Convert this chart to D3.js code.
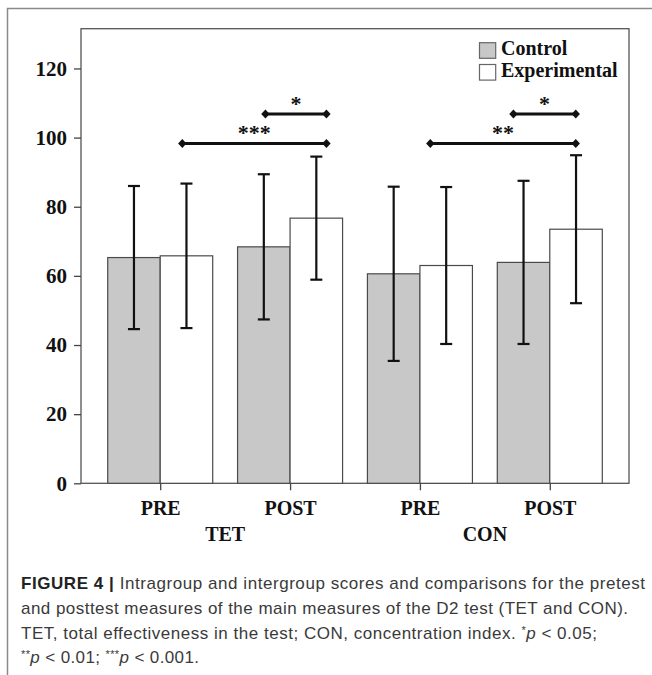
<!DOCTYPE html>
<html>
<head>
<meta charset="utf-8">
<script src="https://cdn.jsdelivr.net/npm/d3@7"></script>
<style>
  body { margin: 0; background: #fff; }
  svg { display: block; }
</style>
</head>
<body>
<div class="chart"></div>
<script>
// values
var categories = ["TET PRE", "TET POST", "CON PRE", "CON POST"];
var phaseLabels = ["PRE", "POST", "PRE", "POST"];
var groups = ["TET", "CON"];
var controlMean = [65.3, 68.4, 60.6, 63.9];
var controlSd = [20.7, 21.0, 25.2, 23.6];
var expMean = [65.8, 76.7, 63.0, 73.5];
var expSd = [20.9, 17.8, 22.7, 21.4];
var yTicks = [0, 20, 40, 60, 80, 100, 120];

// significance brackets (positions in category index units)
var bracketFrom = [0.17, 0.81, 2.08, 2.72];
var bracketTo = [1.28, 1.28, 3.2, 3.2];
var bracketLevel = [98.3, 106.8, 98.3, 106.8];
var bracketLabel = ["***", "*", "**", "*"];

var legendNames = ["Control", "Experimental"];
var legendFill = ["#c8c8c8", "#ffffff"];

var values = {
  width: 652,
  height: 675,
  left: 81,
  right: 629,
  top: 28.7,
  bottom: 483.3,
  barWidth: 52.5
};

var serif = "'Liberation Serif', 'Times New Roman', serif";

var svg = d3.select('.chart')
  .append('svg')
  .attr('width', values.width)
  .attr('height', values.height);

// outer figure frame (left + top only visible)
svg.append('path')
  .attr('d', 'M7.5,675 V8.5 H652')
  .attr('fill', 'none')
  .attr('stroke', '#8a8a8a')
  .attr('stroke-width', 1.5);

var x = d3.scalePoint()
  .domain(categories)
  .range([values.left, values.right])
  .padding(0.61);

var xi = d3.scaleLinear()
  .domain([0, 3])
  .range([x(categories[0]), x(categories[3])]);

var y = d3.scaleLinear()
  .domain([0, 131.5])
  .range([values.bottom, values.top]);

var bars = [];
categories.forEach(function (c, i) {
  bars.push({ c: c, side: -1, mean: controlMean[i], sd: controlSd[i], fill: legendFill[0] });
  bars.push({ c: c, side: 0, mean: expMean[i], sd: expSd[i], fill: legendFill[1] });
});

// plot frame
svg.append('rect')
  .attr('x', values.left)
  .attr('y', values.top)
  .attr('width', values.right - values.left)
  .attr('height', values.bottom - values.top)
  .attr('fill', 'none')
  .attr('stroke', '#555')
  .attr('stroke-width', 1.3);

// bars
svg.selectAll('rect.bar')
  .data(bars)
  .enter()
  .append('rect')
  .attr('class', 'bar')
  .attr('x', d => x(d.c) + d.side * values.barWidth)
  .attr('y', d => y(d.mean))
  .attr('width', values.barWidth)
  .attr('height', d => y(0) - y(d.mean))
  .attr('fill', d => d.fill)
  .attr('stroke', '#4a4a4a')
  .attr('stroke-width', 1.2);

// error bars
var err = svg.selectAll('g.err')
  .data(bars)
  .enter()
  .append('g')
  .attr('class', 'err')
  .attr('stroke', '#111')
  .attr('stroke-width', 2.2);

err.append('line')
  .attr('x1', d => x(d.c) + d.side * values.barWidth + values.barWidth / 2)
  .attr('x2', d => x(d.c) + d.side * values.barWidth + values.barWidth / 2)
  .attr('y1', d => y(d.mean - d.sd))
  .attr('y2', d => y(d.mean + d.sd));

[-1, 1].forEach(function (k) {
  err.append('line')
    .attr('x1', d => x(d.c) + d.side * values.barWidth + values.barWidth / 2 - 6)
    .attr('x2', d => x(d.c) + d.side * values.barWidth + values.barWidth / 2 + 6)
    .attr('y1', d => y(d.mean + k * d.sd))
    .attr('y2', d => y(d.mean + k * d.sd));
});

// y axis
var yAxis = d3.axisLeft(y).tickValues(yTicks).tickSize(7).tickPadding(7);
var gy = svg.append('g')
  .attr('transform', 'translate(' + values.left + ',0)')
  .call(yAxis);
gy.select('.domain').remove();
gy.selectAll('line').attr('stroke', '#444').attr('stroke-width', 1.3);
gy.selectAll('text')
  .attr('fill', '#111')
  .style('font-family', serif)
  .style('font-weight', 'bold')
  .style('font-size', '21px');

// x axis
var xAxis = d3.axisBottom(x)
  .tickSize(7)
  .tickPadding(11)
  .tickFormat((d, i) => phaseLabels[i]);
var gx = svg.append('g')
  .attr('transform', 'translate(0,' + values.bottom + ')')
  .call(xAxis);
gx.select('.domain').remove();
gx.selectAll('line').attr('stroke', '#444').attr('stroke-width', 1.3);
gx.selectAll('text')
  .attr('fill', '#111')
  .style('font-family', serif)
  .style('font-weight', 'bold')
  .style('font-size', '20px');

// group labels
svg.selectAll('text.group')
  .data(groups)
  .enter()
  .append('text')
  .attr('class', 'group')
  .attr('x', (d, i) => (xi(i * 2) + xi(i * 2 + 1)) / 2)
  .attr('y', 540.7)
  .attr('text-anchor', 'middle')
  .attr('fill', '#111')
  .style('font-family', serif)
  .style('font-weight', 'bold')
  .style('font-size', '20px')
  .text(d => d);

// significance brackets
var br = svg.selectAll('g.bracket')
  .data(bracketLabel)
  .enter()
  .append('g')
  .attr('class', 'bracket');

br.append('line')
  .attr('x1', (d, i) => xi(bracketFrom[i]))
  .attr('x2', (d, i) => xi(bracketTo[i]))
  .attr('y1', (d, i) => y(bracketLevel[i]))
  .attr('y2', (d, i) => y(bracketLevel[i]))
  .attr('stroke', '#111')
  .attr('stroke-width', 3);

var diamond = function (cx, cy) {
  return 'M' + cx + ',' + (cy - 4.5) + ' L' + (cx + 4.2) + ',' + cy +
    ' L' + cx + ',' + (cy + 4.5) + ' L' + (cx - 4.2) + ',' + cy + 'Z';
};
br.append('path')
  .attr('d', (d, i) => diamond(xi(bracketFrom[i]), y(bracketLevel[i])))
  .attr('fill', '#111');
br.append('path')
  .attr('d', (d, i) => diamond(xi(bracketTo[i]), y(bracketLevel[i])))
  .attr('fill', '#111');

br.append('text')
  .attr('x', (d, i) => (xi(bracketFrom[i]) + xi(bracketTo[i])) / 2)
  .attr('y', (d, i) => y(bracketLevel[i]) - 3)
  .attr('text-anchor', 'middle')
  .attr('fill', '#111')
  .style('font-family', serif)
  .style('font-weight', 'bold')
  .style('font-size', '22px')
  .text(d => d);

// legend
var lg = svg.selectAll('g.legend')
  .data(legendNames)
  .enter()
  .append('g')
  .attr('class', 'legend')
  .attr('transform', (d, i) => 'translate(479.5,' + (42.7 + i * 21.8) + ')');

lg.append('rect')
  .attr('width', 16.2)
  .attr('height', 15.6)
  .attr('fill', (d, i) => legendFill[i])
  .attr('stroke', '#666')
  .attr('stroke-width', 1.2);

lg.append('text')
  .attr('x', 21.5)
  .attr('y', 12.6)
  .attr('fill', '#111')
  .style('font-family', serif)
  .style('font-weight', 'bold')
  .style('font-size', '20px')
  .text(d => d);

// caption, one text per line, stretched to the widths of the original
var captionFont = "'Liberation Sans', Arial, sans-serif";
var capLine = function (yPos, width) {
  return svg.append('text')
    .attr('x', 21)
    .attr('y', yPos)
    .attr('textLength', width)
    .attr('lengthAdjust', 'spacing')
    .attr('fill', '#3a3a3a')
    .style('font-family', captionFont)
    .style('font-size', '17px');
};

var line1 = capLine(589, 624);
line1.append('tspan').style('font-weight', 'bold').attr('fill', '#222').text('FIGURE 4 | ');
line1.append('tspan').text('Intragroup and intergroup scores and comparisons for the pretest');

capLine(614, 607)
  .text('and posttest measures of the main measures of the D2 test (TET and CON).');

var line3 = capLine(638.5, 576);
line3.append('tspan').text('TET, total effectiveness in the test; CON, concentration index. ');
line3.append('tspan').attr('dy', -5).style('font-size', '11px').text('*');
line3.append('tspan').attr('dy', 5).style('font-style', 'italic').text('p');
line3.append('tspan').text(' < 0.05;');

var line4 = capLine(663, 178);
line4.append('tspan').attr('dy', -5).style('font-size', '11px').text('**');
line4.append('tspan').attr('dy', 5).style('font-style', 'italic').text('p');
line4.append('tspan').text(' < 0.01; ');
line4.append('tspan').attr('dy', -5).style('font-size', '11px').text('***');
line4.append('tspan').attr('dy', 5).style('font-style', 'italic').text('p');
line4.append('tspan').text(' < 0.001.');
</script>
</body>
</html>
